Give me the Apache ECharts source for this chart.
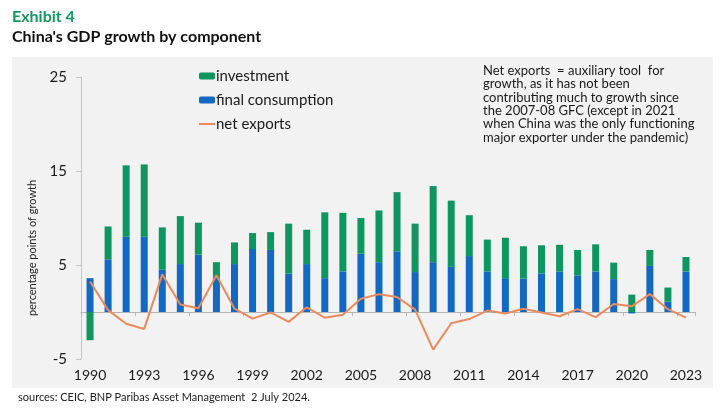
<!DOCTYPE html>
<html><head><meta charset="utf-8">
<script src="https://cdn.jsdelivr.net/npm/echarts@6/dist/echarts.min.js"></script>
<style>html,body{margin:0;padding:0;background:#fff}#c{width:725px;height:412px}</style>
</head><body><div id="c"></div>
<script>
const years = ['1990','1991','1992','1993','1994','1995','1996','1997','1998','1999','2000','2001','2002','2003','2004','2005','2006','2007','2008','2009','2010','2011','2012','2013','2014','2015','2016','2017','2018','2019','2020','2021','2022','2023'];
const consumption = [3.6,5.6,8.0,8.0,4.5,5.1,6.1,3.7,5.1,6.7,6.6,4.1,5.1,3.6,4.3,6.2,5.3,6.45,4.25,5.3,4.8,5.95,4.3,3.6,3.55,4.1,4.3,3.9,4.3,3.5,-0.15,4.9,1.1,4.3];
const investment = [-3.0,3.5,7.6,7.7,4.5,5.1,3.4,1.6,2.3,1.7,1.9,5.3,3.65,7.0,6.25,3.8,5.5,6.3,5.15,8.1,7.05,4.35,3.4,4.3,3.45,3.0,2.85,2.7,2.9,1.75,1.85,1.7,1.5,1.55];
const netExports = [3.25,0.2,-1.25,-1.8,4.0,0.8,0.4,3.9,0.35,-0.7,-0.05,-1.05,0.5,-0.6,-0.3,1.4,1.9,1.6,0.25,-4.0,-1.2,-0.75,0.15,-0.15,0.35,-0.05,-0.45,0.3,-0.55,0.85,0.6,1.9,0.3,-0.6];
const yTicks = {min:-5, max:25, interval:10};
const noteLines = ['Net exports  = auxiliary tool  for','growth, as it has not been','contributing much to growth since','the 2007-08 GFC (except in 2021','when China was the only functioning','major exporter under the pandemic)'];

const FONT = 'Lato, "Open Sans", sans-serif';
const chart = echarts.init(document.getElementById('c'));
chart.setOption({
  animation:false,
  textStyle:{fontFamily:FONT},
  graphic:[
    {type:'rect', z:-10, shape:{x:12,y:57,width:701,height:331}, style:{fill:'#f2f2f2'}},
    {type:'text', left:12, top:9, style:{text:'Exhibit 4', fill:'#13975f', font:'bold 16px '+FONT}},
    {type:'text', left:12, top:29, style:{text:"China's GDP growth by component", fill:'#111', font:'bold 16px '+FONT}},
    {type:'text', left:483, top:64, style:{text:noteLines.join('\n'), fill:'#1a1a1a', font:'13px '+FONT, lineHeight:13.4}},
    {type:'text', x:32, y:248, rotation:Math.PI/2, style:{text:'percentage points of growth', fill:'#222', font:'11px '+FONT, align:'center', verticalAlign:'middle'}},
    {type:'text', left:18, top:392, style:{text:'sources: CEIC, BNP Paribas Asset Management  2 July 2024.', fill:'#222', font:'11px '+FONT}}
  ],
  legend:{
    orient:'vertical', left:194, top:62, itemWidth:16, itemHeight:7, itemGap:6,
    data:['investment','final consumption',{name:'net exports', icon:'path://M0,0h16v2H0z'}],
    textStyle:{fontSize:15, color:'#1a1a1a', lineHeight:18, fontFamily:FONT, padding:[0,0,0,-4]}
  },
  grid:{left:81, right:30, top:77, bottom:53},
  xAxis:[
    {type:'category', data:years, boundaryGap:true,
     axisLine:{onZero:true, lineStyle:{color:'#b5b5b5', width:1}},
     axisTick:{show:true, interval:2, length:4, lineStyle:{color:'#b5b5b5'}},
     axisLabel:{show:false}},
    {type:'category', data:years, position:'bottom', boundaryGap:true,
     axisLine:{show:false, onZero:false}, axisTick:{show:false},
     axisLabel:{interval:2, fontSize:14, color:'#1a1a1a', margin:9, fontFamily:FONT}}
  ],
  yAxis:{type:'value', min:yTicks.min, max:yTicks.max, interval:yTicks.interval,
    axisLine:{show:true, lineStyle:{color:'#c4c4c4'}},
    axisTick:{show:true, length:5, lineStyle:{color:'#c4c4c4'}},
    splitLine:{show:false},
    axisLabel:{fontSize:15, color:'#1a1a1a', margin:14, fontFamily:FONT}},
  series:[
    {name:'final consumption', type:'bar', stack:'gdp', data:consumption, barWidth:7, itemStyle:{color:'#1368c2'}},
    {name:'investment', type:'bar', stack:'gdp', data:investment, barWidth:7, itemStyle:{color:'#0f9660'}},
    {name:'net exports', type:'line', data:netExports, symbol:'none', z:5, lineStyle:{color:'#ea8a5d', width:2}, itemStyle:{color:'#ea8a5d'}}
  ]
});
</script></body></html>
